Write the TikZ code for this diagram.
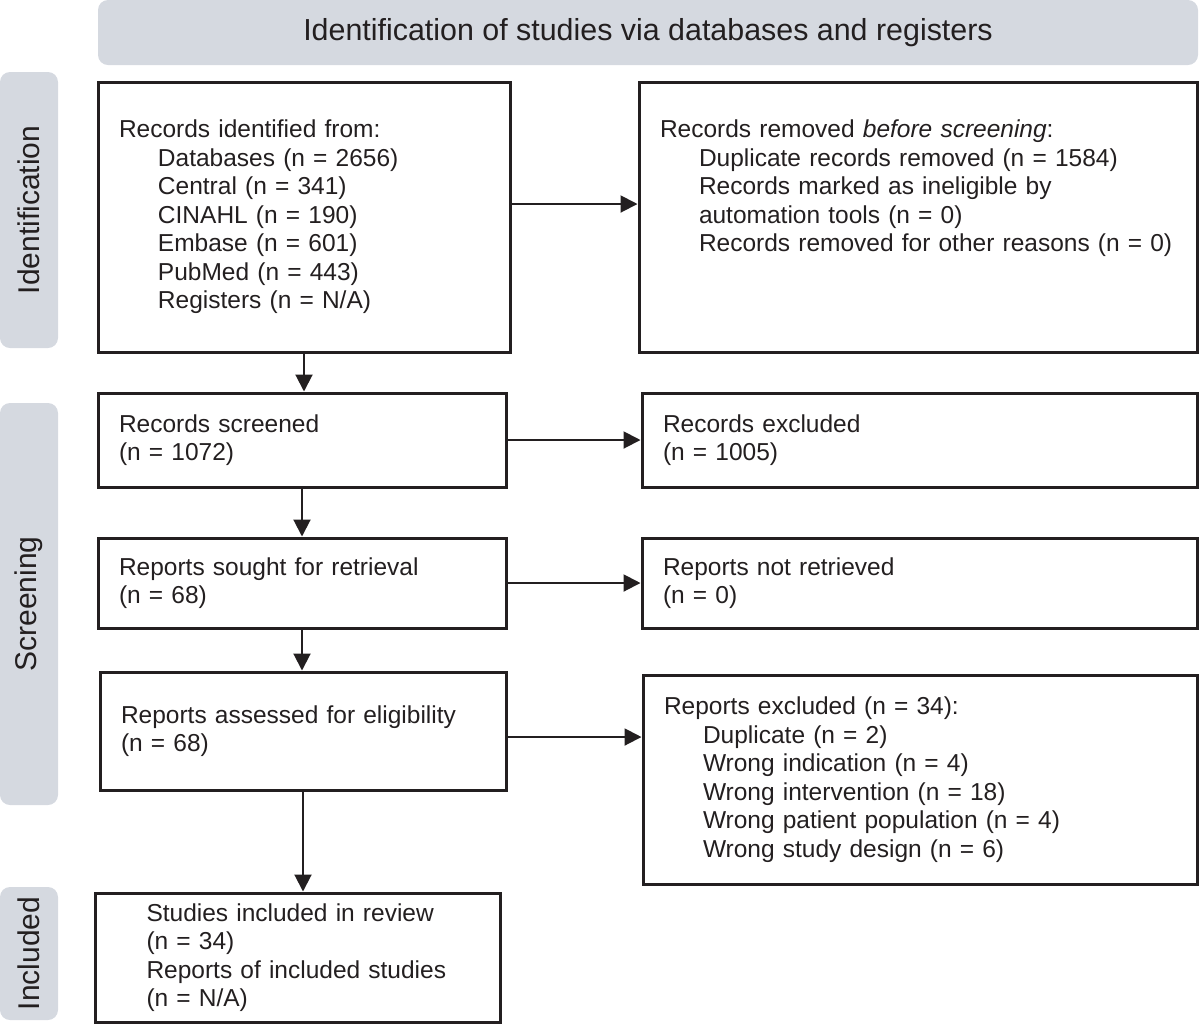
\documentclass[tikz,border=0pt]{standalone}
\usepackage{fontspec}
\setmainfont{Liberation Sans}
\usetikzlibrary{arrows.meta, positioning, calc}
\definecolor{PrismaGrey}{HTML}{D5D9E0}
\definecolor{PrismaInk}{HTML}{231F20}
\newcommand{\ind}{\hspace*{19.5pt}}
\tikzset{
    % Boxes of the flow
    stagebox/.style={
        rectangle,
        draw=PrismaInk,
        line width=1.5pt,
        inner xsep=10.5pt,
        inner ysep=0pt,
        align=left,
        text=PrismaInk,
        font=\fontsize{12.25}{14.25}\selectfont
    },
    % Grey phase labels
    phasebox/.style={
        rectangle,
        rounded corners=5pt,
        fill=PrismaGrey,
        draw=none,
        text=PrismaInk,
        font=\fontsize{15}{18}\selectfont
    },
    % Arrow style
    flowarrow/.style={
        -{Triangle[length=8.5pt,width=8.5pt]},
        line width=1pt,
        PrismaInk
    }
}
\begin{document}
\begin{tikzpicture}[x=0.5pt, y=-0.5pt]
    \useasboundingbox (0,0) rectangle (1200,1025);

    % Banner and phase labels
    \node[phasebox, font=\fontsize{15.2}{18}\selectfont, minimum width=550pt, minimum height=32.5pt] (banner) at (648,32.5) {Identification of studies via databases and registers};
    \node[phasebox, rotate=90, minimum width=138pt, minimum height=29pt] (phaseid) at (29,210) {Identification};
    \node[phasebox, rotate=90, minimum width=201pt, minimum height=29pt] (phasescr) at (29,604) {Screening};
    \node[phasebox, rotate=90, minimum width=66.5pt, minimum height=29pt] (phaseinc) at (29,953.5) {Included};

    % Identification
    \node[stagebox, minimum width=206pt, minimum height=135pt, text width=185pt] (identified) at (304,217) {
        Records identified from:\\
        \ind Databases (n = 2656)\\
        \ind Central (n = 341)\\
        \ind CINAHL (n = 190)\\
        \ind Embase (n = 601)\\
        \ind PubMed (n = 443)\\
        \ind Registers (n = N/A)};
    \node[stagebox, minimum width=279pt, minimum height=135pt, text width=258pt] (removed) at (918,217) {
        Records removed \textit{before screening}:\\
        \ind Duplicate records removed (n = 1584)\\
        \ind Records marked as ineligible by\\
        \ind automation tools (n = 0)\\
        \ind Records removed for other reasons (n = 0)\\[16.75pt]
        \mbox{}};

    % Screening
    \node[stagebox, minimum width=204pt, minimum height=47pt, text width=183pt] (screened) at (302,440) {Records screened\\(n = 1072)};
    \node[stagebox, minimum width=277.5pt, minimum height=47pt, text width=256.5pt] (excluded) at (919.5,440) {Records excluded\\(n = 1005)};
    \node[stagebox, minimum width=204pt, minimum height=45pt, text width=183pt] (sought) at (302,583) {Reports sought for retrieval\\(n = 68)};
    \node[stagebox, minimum width=277.5pt, minimum height=45pt, text width=256.5pt] (notretrieved) at (919.5,583) {Reports not retrieved\\(n = 0)};
    \node[stagebox, minimum width=203pt, minimum height=59pt, text width=182pt] (assessed) at (303,731) {Reports assessed for eligibility\\(n = 68)};
    \node[stagebox, minimum width=277pt, minimum height=104.5pt, text width=256pt] (reportsexcl) at (920,779.5) {
        Reports excluded (n = 34):\\
        \ind Duplicate (n = 2)\\
        \ind Wrong indication (n = 4)\\
        \ind Wrong intervention (n = 18)\\
        \ind Wrong patient population (n = 4)\\
        \ind Wrong study design (n = 6)};

    % Included
    \node[stagebox, minimum width=202.5pt, minimum height=64.5pt, text width=154pt] (included) at (297.5,957.5) {
        \hspace*{1.5pt}Studies included in review\\
        \hspace*{1.5pt}(n = 34)\\
        \hspace*{1.5pt}Reports of included studies\\
        \hspace*{1.5pt}(n = N/A)};

    \draw[flowarrow] ([yshift=6.5pt]identified.east) -- ([yshift=6.5pt]identified.east -| removed.west);
    \draw[flowarrow] (identified.south) -- (identified.south |- screened.north);
    \draw[flowarrow] (screened.east) -- (screened.east -| excluded.west);
    \draw[flowarrow] (screened.south) -- (screened.south |- sought.north);
    \draw[flowarrow] (sought.east) -- (sought.east -| notretrieved.west);
    \draw[flowarrow] (sought.south) -- (sought.south |- assessed.north);
    \draw[flowarrow] ([yshift=-3pt]assessed.east) -- ([yshift=-3pt]assessed.east -| reportsexcl.west);
    \draw[flowarrow] (assessed.south) -- (assessed.south |- included.north);
\end{tikzpicture}
\end{document}
